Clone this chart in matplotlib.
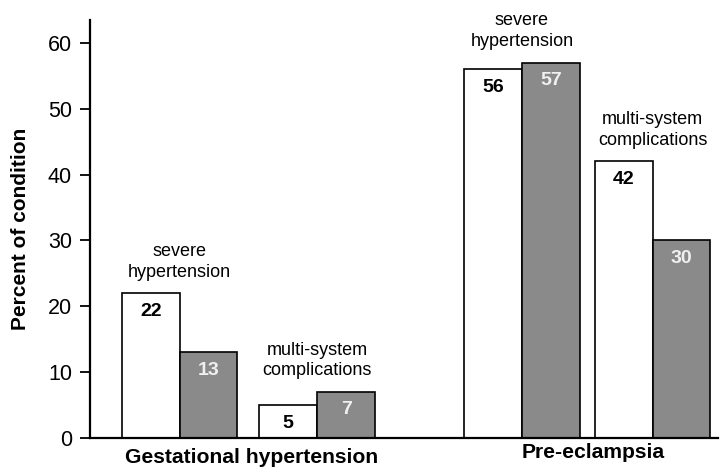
import numpy as np
import matplotlib.pyplot as plt

plt.rcParams['font.family'] = ['Liberation Sans', 'DejaVu Sans']

# Percent of each condition with severe hypertension / multi-system complications
groups = ["Gestational hypertension", "Pre-eclampsia"]
outcomes = ["severe\nhypertension", "multi-system\ncomplications"]
white_vals = [22, 5, 56, 42]
grey_vals = [13, 7, 57, 30]

# centre of each white/grey pair along the x axis (bar width = 1)
pair_centers = np.array([1.55, 3.93, 7.47, 9.73])
group_centers = [2.8, 8.7]
width = 1.0

fig = plt.figure(figsize=(7.2, 4.73), dpi=100)
ax = fig.add_axes([0.125, 0.074, 0.872, 0.884])

x_white = pair_centers - width / 2
x_grey = pair_centers + width / 2
ax.bar(x_white, white_vals, width=width, color='white', edgecolor='black', linewidth=1.2)
ax.bar(x_grey, grey_vals, width=width, color='#8a8a8a', edgecolor='black', linewidth=1.2)

# values printed inside the top of each bar
for x, v in zip(x_white, white_vals):
    ax.annotate(str(v), (x, v), xytext=(0, -13), textcoords='offset points',
                ha='center', va='center', fontsize=14, fontweight='bold', color='black')
for x, v in zip(x_grey, grey_vals):
    ax.annotate(str(v), (x, v), xytext=(0, -13), textcoords='offset points',
                ha='center', va='center', fontsize=14, fontweight='bold', color='#f0f0f0')

# outcome captions above each pair
for i, c in enumerate(pair_centers):
    top = max(white_vals[i], grey_vals[i])
    ax.annotate(outcomes[i % 2], (c, top), xytext=(0, 9), textcoords='offset points',
                ha='center', va='bottom', fontsize=13, linespacing=1.3)

ax.set_xlim(0, 10.86)
ax.set_ylim(0, 63.5)
ax.set_yticks([0, 10, 20, 30, 40, 50, 60])
ax.tick_params(axis='y', direction='out', length=7, width=1.3, pad=6, labelsize=15.5)
ax.set_xticks(group_centers)
ax.set_xticklabels(groups, fontsize=15.2, fontweight='bold')
ax.tick_params(axis='x', length=0, pad=7)
ax.get_xticklabels()[1].set_y(0.012)

ax.set_ylabel("Percent of condition", fontsize=15, fontweight='bold', labelpad=13)

for side in ['top', 'right']:
    ax.spines[side].set_visible(False)
for side in ['left', 'bottom']:
    ax.spines[side].set_linewidth(1.6)

fig.savefig("out.png", dpi=100)
